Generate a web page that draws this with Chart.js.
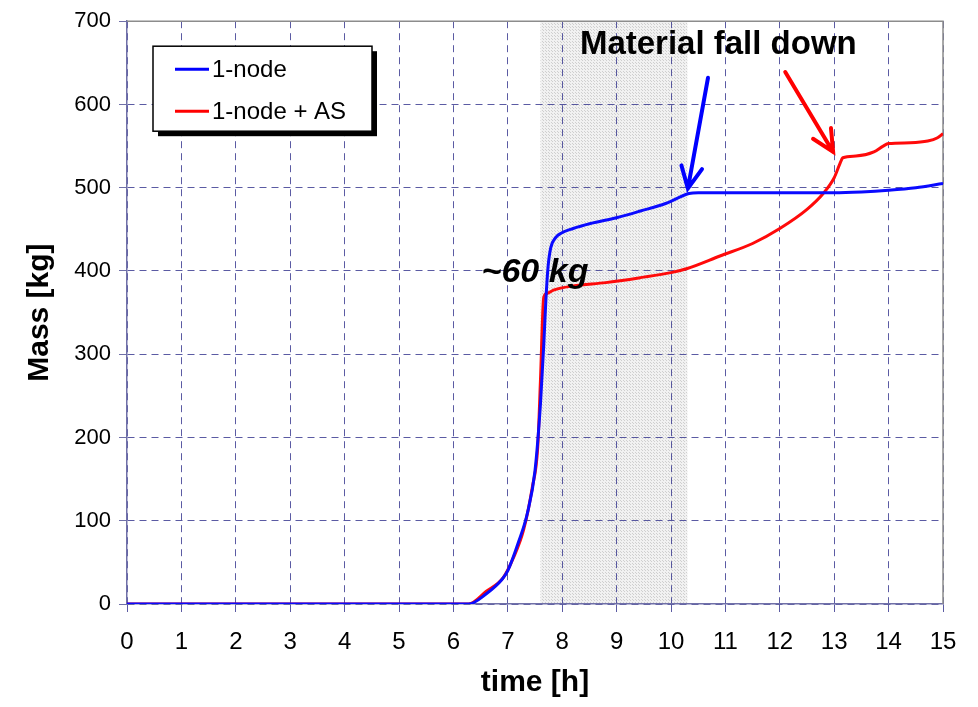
<!DOCTYPE html>
<html>
<head>
<meta charset="utf-8">
<script src="https://cdn.jsdelivr.net/npm/chart.js@4.4.1/dist/chart.umd.min.js"></script>
<style>
  html, body { margin: 0; padding: 0; background: #fff; }
  #wrap { width: 978px; height: 707px; }
</style>
</head>
<body>
<div id="wrap"><canvas id="massChart" width="978" height="707"></canvas></div>
<script>
// data
const timeBlue = [0, 6.28, 6.6, 6.9, 7.0, 7.2, 7.36, 7.5, 7.6, 7.66, 7.7, 7.74, 7.79, 7.88, 7.97, 8.2, 8.52, 9.0, 9.44, 9.9, 10.33, 10.5, 11, 12, 13, 13.5, 14, 14.5, 15];
const massBlue = [0, 0, 12, 30, 40, 75, 109, 160, 240, 310, 365, 405, 428, 440, 445, 451, 457, 464, 472, 481, 493, 494, 494, 494, 494, 495, 497, 500, 505];

const timeRed = [0, 6.28, 6.6, 6.92, 7.1, 7.29, 7.45, 7.55, 7.6, 7.66, 7.72, 7.84, 8.2, 8.8, 9.44, 10.0, 10.3, 10.9, 11.5, 12.0, 12.5, 12.81, 13.0, 13.1, 13.16, 13.4, 13.73, 13.9, 14.0, 14.4, 14.72, 14.9, 15];
const massRed = [0, 0, 15, 32, 55, 89, 140, 188, 268, 368, 373, 377, 382, 386, 392, 398, 403, 418, 433, 451, 474, 494, 512, 528, 536, 538, 543, 550, 553, 554, 556, 560, 565];

const seriesNames = ['1-node', '1-node + AS'];
const bandStart = 7.6;
const bandEnd = 10.3;

const narrow = "'Liberation Sans Narrow', 'Liberation Sans', Arial, sans-serif";
const sans = "'Liberation Sans', Arial, sans-serif";

function pairs(xs, ys) {
    return xs.map((x, i) => ({x: x, y: ys[i]}));
}

// dotted grey texture for the shaded band
function makePattern(ctx) {
    const c = document.createElement('canvas');
    c.width = 3; c.height = 3;
    const p = c.getContext('2d');
    p.fillStyle = '#f1f1f1';
    p.fillRect(0, 0, 3, 3);
    p.fillStyle = '#cfcfcf';
    p.fillRect(0, 0, 1, 1);
    p.fillRect(2, 2, 1, 1);
    return ctx.createPattern(c, 'repeat');
}

function arrow(ctx, x1, y1, x2, y2, color) {
    const ang = Math.atan2(y2 - y1, x2 - x1);
    const head = 24;
    ctx.save();
    ctx.strokeStyle = color;
    ctx.lineWidth = 4;
    ctx.lineCap = 'round';
    ctx.beginPath();
    ctx.moveTo(x1, y1);
    ctx.lineTo(x2, y2);
    ctx.moveTo(x2 - head * Math.cos(ang - 0.45), y2 - head * Math.sin(ang - 0.45));
    ctx.lineTo(x2, y2);
    ctx.lineTo(x2 - head * Math.cos(ang + 0.45), y2 - head * Math.sin(ang + 0.45));
    ctx.stroke();
    ctx.restore();
}

const bandPlugin = {
    id: 'band',
    beforeDraw(chart) {
        const {ctx, chartArea, scales} = chart;
        const x1 = scales.x.getPixelForValue(bandStart);
        const x2 = scales.x.getPixelForValue(bandEnd);
        ctx.save();
        ctx.fillStyle = makePattern(ctx);
        ctx.fillRect(x1, chartArea.top, x2 - x1, chartArea.bottom - chartArea.top);
        ctx.restore();
    },
    beforeDatasetsDraw(chart) {
        const {ctx, chartArea} = chart;
        ctx.save();
        ctx.strokeStyle = '#8c8c8c';
        ctx.lineWidth = 1.5;
        ctx.beginPath();
        ctx.moveTo(chartArea.left, chartArea.top);
        ctx.lineTo(chartArea.right, chartArea.top);
        ctx.lineTo(chartArea.right, chartArea.bottom);
        ctx.stroke();
        ctx.restore();
    }
};

const notesPlugin = {
    id: 'notes',
    afterDatasetsDraw(chart) {
        const {ctx, chartArea, scales} = chart;
        const px = v => scales.x.getPixelForValue(v);
        const py = v => scales.y.getPixelForValue(v);

        ctx.save();
        ctx.fillStyle = '#000';
        ctx.textAlign = 'center';
        ctx.textBaseline = 'middle';
        ctx.font = 'italic bold 34px ' + sans;
        ctx.fillText('~60 kg', px(7.5), py(398));
        ctx.font = 'bold 33px ' + sans;
        ctx.fillText('Material fall down', px(10.87), py(672));
        ctx.restore();

        arrow(ctx, px(10.68), py(632), px(10.31), py(499), '#0000ff');
        arrow(ctx, px(12.1), py(639), px(12.98), py(543), '#ff0000');

        // legend box
        const bx = chartArea.left + 26, by = chartArea.top + 25, bw = 219, bh = 85;
        ctx.save();
        ctx.fillStyle = '#000';
        ctx.fillRect(bx + 5, by + 5, bw, bh);
        ctx.fillStyle = '#fff';
        ctx.fillRect(bx, by, bw, bh);
        ctx.strokeStyle = '#000';
        ctx.lineWidth = 1.5;
        ctx.strokeRect(bx, by, bw, bh);
        const colors = ['#0000ff', '#ff0000'];
        ctx.font = '24px ' + sans;
        ctx.textBaseline = 'middle';
        ctx.textAlign = 'left';
        seriesNames.forEach((name, i) => {
            const yy = by + 23 + i * 42;
            ctx.strokeStyle = colors[i];
            ctx.lineWidth = 3;
            ctx.beginPath();
            ctx.moveTo(bx + 22, yy);
            ctx.lineTo(bx + 56, yy);
            ctx.stroke();
            ctx.fillStyle = '#000';
            ctx.fillText(name, bx + 59, yy + 1);
        });
        ctx.restore();
    }
};

const ctx = document.getElementById('massChart').getContext('2d');

const chart = new Chart(ctx, {
    type: 'line',
    data: {
        datasets: [{
            label: seriesNames[0],
            data: pairs(timeBlue, massBlue),
            borderColor: '#0a0aff',
            borderWidth: 3,
            pointRadius: 0,
            cubicInterpolationMode: 'monotone'
        }, {
            label: seriesNames[1],
            data: pairs(timeRed, massRed),
            borderColor: '#ff0a0a',
            borderWidth: 3,
            pointRadius: 0,
            cubicInterpolationMode: 'monotone'
        }]
    },
    options: {
        responsive: false,
        animation: false,
        layout: { padding: { top: 20, right: 35, left: 0, bottom: 0 } },
        plugins: {
            legend: { display: false },
            tooltip: { enabled: false }
        },
        scales: {
            x: {
                type: 'linear',
                min: 0,
                max: 15,
                ticks: {
                    stepSize: 1,
                    color: '#000',
                    padding: 16,
                    font: { family: narrow, size: 24 }
                },
                grid: {
                    color: 'rgba(50,50,140,0.8)',
                    tickColor: 'rgba(50,50,140,0.8)',
                    tickLength: 8,
                    drawOnChartArea: true
                },
                border: { display: true, color: '#7070a8', width: 1.5, dash: [7, 5] },
                title: {
                    display: true,
                    text: 'time [h]',
                    color: '#000',
                    font: { family: sans, size: 30, weight: 'bold' },
                    padding: { top: 0, bottom: 6 }
                },
                afterFit(scale) { scale.height = 103; }
            },
            y: {
                min: 0,
                max: 700,
                ticks: {
                    stepSize: 100,
                    color: '#000',
                    padding: 8,
                    font: { family: sans, size: 22 }
                },
                grid: {
                    color: 'rgba(50,50,140,0.8)',
                    tickColor: '#7070a8',
                    tickLength: 8
                },
                border: { display: true, color: '#7070a8', width: 1.5, dash: [7, 5] },
                title: {
                    display: true,
                    text: 'Mass [kg]',
                    color: '#000',
                    font: { family: sans, size: 30, weight: 'bold' },
                    padding: { top: 22, bottom: 0 }
                },
                afterFit(scale) { scale.width = 127; }
            }
        }
    },
    plugins: [bandPlugin, notesPlugin]
});
</script>
</body>
</html>
